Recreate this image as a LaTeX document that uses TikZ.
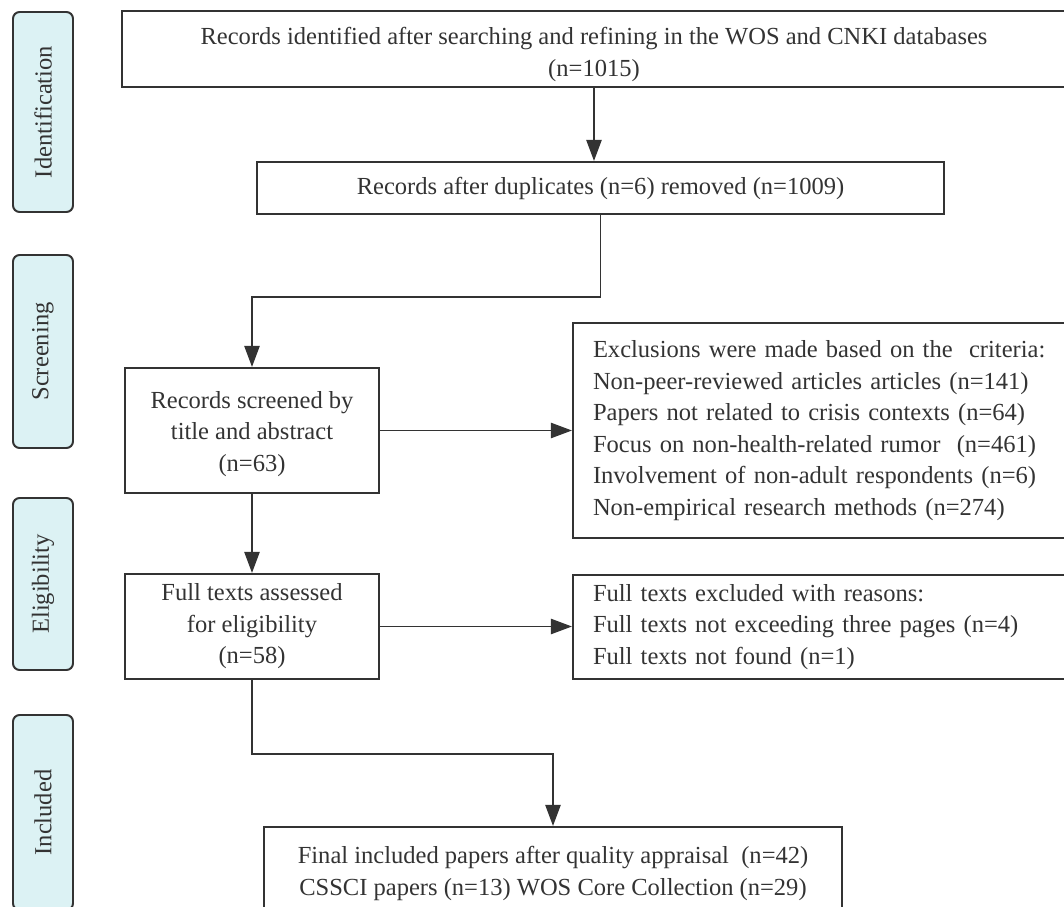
\documentclass[tikz,border=0pt]{standalone}
\usepackage{fontspec}
\setmainfont{Liberation Serif}
\usetikzlibrary{arrows.meta}
\definecolor{inkgray}{HTML}{333333}
\definecolor{phasefill}{HTML}{DCF2F4}
\def\pxu{0.0265cm}
\tikzset{
	flowbox/.style={draw=inkgray,line width=1.5pt,text=inkgray,inner sep=0pt,align=center,
		font=\fontsize{18.5}{23.8}\selectfont},
	listbox/.style={flowbox,align=left,text width={453*\pxu}},
	phase/.style={draw=inkgray,line width=1.5pt,fill=phasefill,rounded corners=5pt,text=inkgray,
		rotate=90,inner sep=0pt,font=\fontsize{18.5}{20}\selectfont},
	flowline/.style={draw=inkgray,line width=1.5pt},
	flowarrow/.style={flowline,-{Triangle[length=16pt,width=11.5pt]}}
}
\begin{document}
\begin{tikzpicture}[x=\pxu,y=-\pxu]
	\useasboundingbox (0,0) rectangle (1064,907);
	\node[phase,minimum width={200*\pxu},minimum height={60*\pxu}] (ident) at (43,112) {Identification};
	\node[phase,minimum width={193*\pxu},minimum height={60*\pxu}] (scr) at (43,351.5) {Screening};
	\node[phase,minimum width={172*\pxu},minimum height={60*\pxu}] (elig) at (43,584) {Eligibility};
	\node[phase,minimum width={195*\pxu},minimum height={60*\pxu}] (incl) at (43,812.5) {Included};

	\node[flowbox,minimum width={944*\pxu},minimum height={76*\pxu}] (recs) at (594,49)
		{\rule{0pt}{21pt}Records identified after searching and refining in the WOS and CNKI databases\\(n=1015)};
	\node[flowbox,minimum width={687*\pxu},minimum height={52*\pxu}] (dedup) at (600.5,188)
		{Records after duplicates (n=6) removed (n=1009)};
	\node[flowbox,minimum width={254*\pxu},minimum height={125*\pxu}] (screen) at (252,430.5)
		{\rule{0pt}{18pt}Records screened by\\title and abstract\\(n=63)};
	\node[listbox,minimum height={215*\pxu},inner xsep={20*\pxu}] (excl) at (819.5,430.5)
		{Exclusions were made based on the\ \ criteria:\\
		Non-peer-reviewed articles articles (n=141)\\
		Papers not related to crisis contexts (n=64)\\
		Focus on non-health-related rumor\ \ (n=461)\\
		Involvement of non-adult respondents (n=6)\\
		Non-empirical research methods (n=274)};
	\node[flowbox,minimum width={254*\pxu},minimum height={105*\pxu}] (full) at (252,626.5)
		{Full texts assessed\\for eligibility\\(n=58)};
	\node[listbox,minimum height={104*\pxu},inner xsep={20*\pxu}] (fullex) at (819.5,627)
		{Full texts excluded with reasons:\\
		Full texts not exceeding three pages (n=4)\\
		Full texts not found (n=1)};
	\node[flowbox,minimum width={578*\pxu},minimum height={93*\pxu}] (final) at (553,873.5)
		{Final included papers after quality appraisal\ \ (n=42)\\CSSCI papers (n=13) WOS Core Collection (n=29)};

	\draw[flowarrow] (recs.south) -- (recs.south |- dedup.north);
	\draw[flowarrow] (dedup.south) -- ++(0,82) -| (screen.north);
	\draw[flowarrow] (screen.east) -- (excl.west);
	\draw[flowarrow] (screen.south) -- (full.north);
	\draw[flowarrow] (full.east) -- (full.east -| fullex.west);
	\draw[flowarrow] (full.south) -- ++(0,74) -| (final.north);
\end{tikzpicture}
\end{document}
